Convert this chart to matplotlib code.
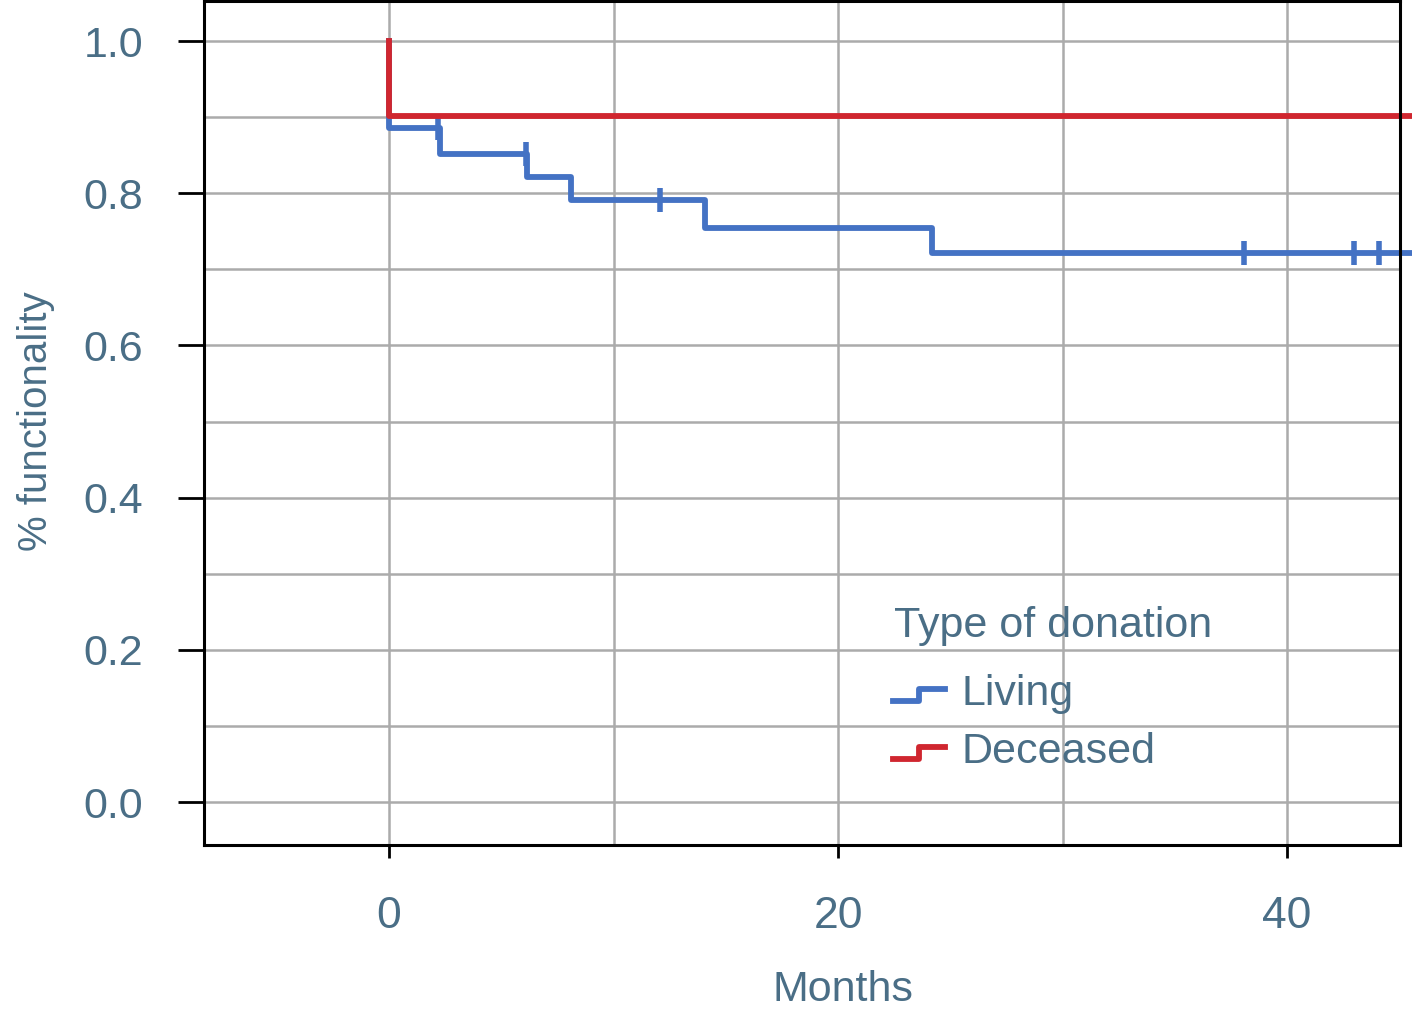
import matplotlib
matplotlib.use("Agg")
import matplotlib.pyplot as plt
from matplotlib.legend_handler import HandlerBase
from matplotlib.lines import Line2D

# Kaplan-Meier style step data
living_t = [0, 0, 2.27, 6.15, 8.1, 14.08, 24.19, 45.5]
living_s = [1.0, 0.886, 0.852, 0.821, 0.791, 0.754, 0.721, 0.721]
living_cens_t = [2.2, 6.1, 12.07, 38.1, 43.0, 44.1]

deceased_t = [0, 0, 46.0]
deceased_s = [1.0, 0.901, 0.901]

x_ticks = [0, 20, 40]
y_ticks = [0.0, 0.2, 0.4, 0.6, 0.8, 1.0]

text_col = "#4a6e86"
blue = "#4472c4"
red = "#d0262f"
narrow = ["Liberation Sans Narrow", "Liberation Sans", "DejaVu Sans"]
wide = ["Liberation Sans", "DejaVu Sans"]


def surv_at(ts, ss, t):
    val = ss[0]
    for ti, si in zip(ts, ss):
        if ti <= t:
            val = si
    return val


class StepHandler(HandlerBase):
    def create_artists(self, legend, orig_handle, xdescent, ydescent,
                       width, height, fontsize, trans):
        x0 = -xdescent
        xs = [x0, x0 + width / 2, x0 + width / 2, x0 + width]
        ys = [0.12 * height, 0.12 * height, 0.52 * height, 0.52 * height]
        ln = Line2D(xs, ys, color=orig_handle.get_color(),
                    lw=orig_handle.get_linewidth(), transform=trans)
        return [ln]


fig = plt.figure(figsize=(14.12, 10.24), dpi=100)
ax = fig.add_axes([0.1445, 0.1748, 0.8470, 0.8242])

ax.set_xlim(-8.24, 45.03)
ax.set_ylim(-0.0565, 1.0526)

# grid
ax.set_xticks(x_ticks)
ax.set_yticks(y_ticks)
ax.set_yticklabels([f"{v:.1f}" for v in y_ticks])
ax.set_xticks([10, 30], minor=True)
ax.set_yticks([0.1, 0.3, 0.5, 0.7, 0.9], minor=True)
ax.grid(True, which="both", color="#ababab", lw=1.8)
ax.set_axisbelow(True)
ax.tick_params(which="minor", length=0)

l1, = ax.step(living_t, living_s, where="post", color=blue, lw=4.2,
              clip_on=False, solid_capstyle="projecting", label="Living")
ax.plot(living_cens_t, [surv_at(living_t, living_s, t) for t in living_cens_t],
        ls="none", marker="|", ms=17, mew=4.0, color=blue)
l2, = ax.step(deceased_t, deceased_s, where="post", color=red, lw=4.2,
              clip_on=False, solid_capstyle="projecting", label="Deceased")

for sp in ax.spines.values():
    sp.set_linewidth(2.2)
    sp.set_color("black")

ax.tick_params(axis="y", which="major", length=19, width=2.0, pad=25,
               labelsize=31, labelcolor=text_col, labelfontfamily=wide)
ax.tick_params(axis="x", which="major", length=9.5, width=2.0, pad=27,
               labelsize=32, labelcolor=text_col, labelfontfamily=narrow)

ax.set_xlabel("Months", fontsize=31, family=narrow, color=text_col)
ax.set_ylabel("% functionality", fontsize=29, family=narrow, color=text_col)
ax.xaxis.set_label_coords(0.534, -0.148)
ax.yaxis.set_label_coords(-0.125, 0.502)

ax.text(0.577, 0.283, "Type of donation", transform=ax.transAxes,
        ha="left", va="top", fontsize=31, family=narrow, color=text_col)

leg = ax.legend(handles=[l1, l2],
                handler_map={Line2D: StepHandler()},
                loc="upper left", bbox_to_anchor=(0.576, 0.203),
                frameon=False,
                handlelength=1.22, handletextpad=0.38, labelspacing=0.42,
                borderpad=0, borderaxespad=0,
                prop={"family": narrow, "size": 31})
for t in leg.get_texts():
    t.set_color(text_col)

fig.savefig("out.png", dpi=100)
